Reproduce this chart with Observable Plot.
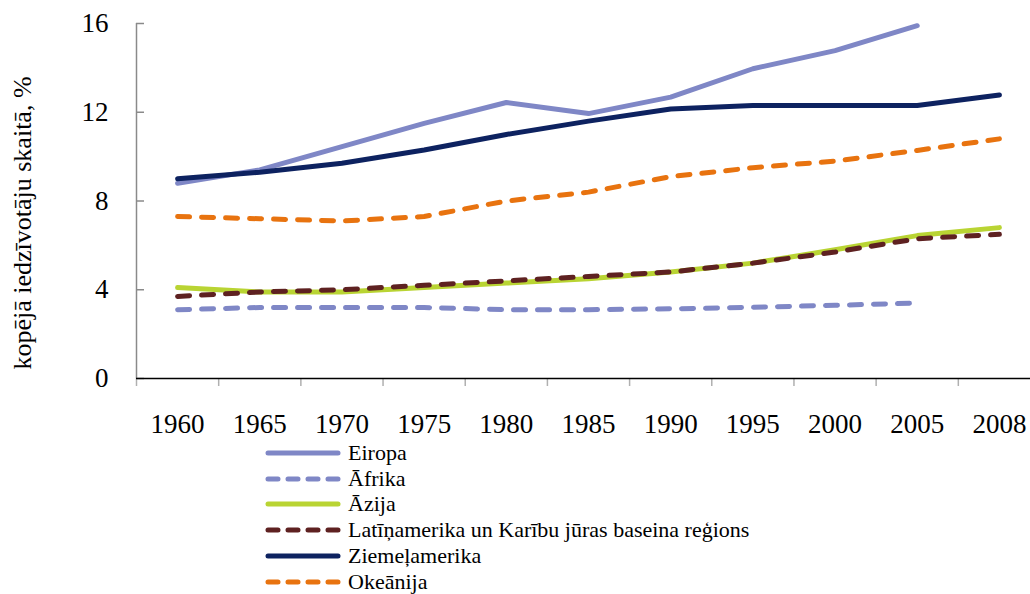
<!DOCTYPE html>
<html><head><meta charset="utf-8">
<script src="https://cdn.jsdelivr.net/npm/d3@7"></script>
<script src="https://cdn.jsdelivr.net/npm/@observablehq/plot@0.6"></script>
<style>
body{margin:0;background:#fff;overflow:hidden;font-family:"Liberation Serif",serif;}
#wrap{position:relative;width:1030px;height:594px;overflow:hidden;background:#fff;}
#chart{width:1040px;}
#legend{position:absolute;left:265px;top:440px;font-family:"Liberation Serif",serif;}
.row{display:flex;align-items:center;height:25.8px;font-size:22px;color:#000;line-height:1;}
.row svg{margin-right:7px;flex:none;}
</style></head><body><div id="wrap"><div id="chart"></div><div id="legend"></div></div>
<script>
const years = ["1960","1965","1970","1975","1980","1985","1990","1995","2000","2005","2008"];
const eiropa        = [8.8, 9.4, 10.45, 11.5, 12.44, 11.94, 12.68, 13.96, 14.78, 15.9, null];
const afrika        = [3.1, 3.2, 3.2, 3.2, 3.1, 3.1, 3.14, 3.21, 3.3, 3.4, null];
const azija         = [4.1, 3.9, 3.9, 4.1, 4.3, 4.5, 4.8, 5.2, 5.8, 6.44, 6.8];
const latinamerika  = [3.7, 3.9, 4.0, 4.2, 4.4, 4.6, 4.8, 5.2, 5.7, 6.3, 6.5];
const ziemelamerika = [9.0, 9.3, 9.7, 10.3, 11.0, 11.6, 12.15, 12.3, 12.3, 12.3, 12.78];
const okeanija      = [7.3, 7.2, 7.1, 7.3, 8.0, 8.4, 9.1, 9.5, 9.8, 10.28, 10.8];
const yTicks = [0, 4, 8, 12, 16];
const yTitle = "kopējā iedzīvotāju skaitā, %";

const series = [
  {name: "Eiropa", values: eiropa, color: "#7f87c6", dash: null},
  {name: "Āfrika", values: afrika, color: "#7f87c6", dash: "12,12"},
  {name: "Āzija", values: azija, color: "#b9d433", dash: null},
  {name: "Latīņamerika un Karību jūras baseina reģions", values: latinamerika, color: "#5e2121", dash: "12,12"},
  {name: "Ziemeļamerika", values: ziemelamerika, color: "#0d2260", dash: null},
  {name: "Okeānija", values: okeanija, color: "#e8730f", dash: "12,12"}
];

const lineMarks = series.map(s => {
  const rows = s.values.map((v, i) => ({i, v})).filter(d => d.v != null);
  return Plot.line(rows, {x: "i", y: "v", stroke: s.color, strokeWidth: 5,
    strokeDasharray: s.dash, strokeLinecap: "round", strokeLinejoin: "round"});
});

const chart = Plot.plot({
  width: 1040, height: 440,
  marginLeft: 136, marginRight: 0, marginTop: 23, marginBottom: 62,
  style: {fontFamily: "Liberation Serif", background: "#fff", color: "#000", overflow: "visible"},
  x: {type: "linear", domain: [-0.5, years.length - 0.5]},
  y: {domain: [0, 16]},
  marks: [
    Plot.ruleX([-0.5], {y1: 0, y2: 16, stroke: "#8a8a8a", strokeWidth: 1.5}),
    Plot.axisY(yTicks, {tickSize: 8, dx: 8, tickFormat: () => "", stroke: "#8a8a8a", strokeWidth: 1.5, label: null}),
    Plot.axisY(yTicks, {tickSize: 0, tickPadding: 28, fontSize: 27, fill: "#000", label: null}),
    Plot.axisX(d3.range(-0.5, years.length - 0.5, 1), {tickSize: 8, tickFormat: () => "", stroke: "#b0b0b0", strokeWidth: 1.5, label: null}),
    Plot.axisX(d3.range(years.length), {tickSize: 0, tickPadding: 35, tickFormat: i => years[i], fontSize: 27, fill: "#000", label: null}),
    Plot.ruleY([0], {stroke: "#000", strokeWidth: 1.5}),
    ...lineMarks,
    Plot.text([yTitle], {frameAnchor: "left", rotate: -90, dx: -114, dy: 22, fontSize: 26, fontFamily: "Liberation Serif", fill: "#000", lineAnchor: "middle", textAnchor: "middle"})
  ]
});
document.getElementById("chart").append(chart);

const legend = document.getElementById("legend");
for (const s of series) {
  const row = document.createElement("div");
  row.className = "row";
  const ns = "http://www.w3.org/2000/svg";
  const svg = document.createElementNS(ns, "svg");
  svg.setAttribute("width", 76); svg.setAttribute("height", 10);
  const ln = document.createElementNS(ns, "line");
  ln.setAttribute("x1", 3); ln.setAttribute("x2", 73); ln.setAttribute("y1", 5); ln.setAttribute("y2", 5);
  ln.setAttribute("stroke", s.color); ln.setAttribute("stroke-width", 5); ln.setAttribute("stroke-linecap", "round");
  if (s.dash) ln.setAttribute("stroke-dasharray", "10,10");
  svg.append(ln);
  const span = document.createElement("span");
  span.textContent = s.name;
  row.append(svg, span);
  legend.append(row);
}
</script></body></html>
